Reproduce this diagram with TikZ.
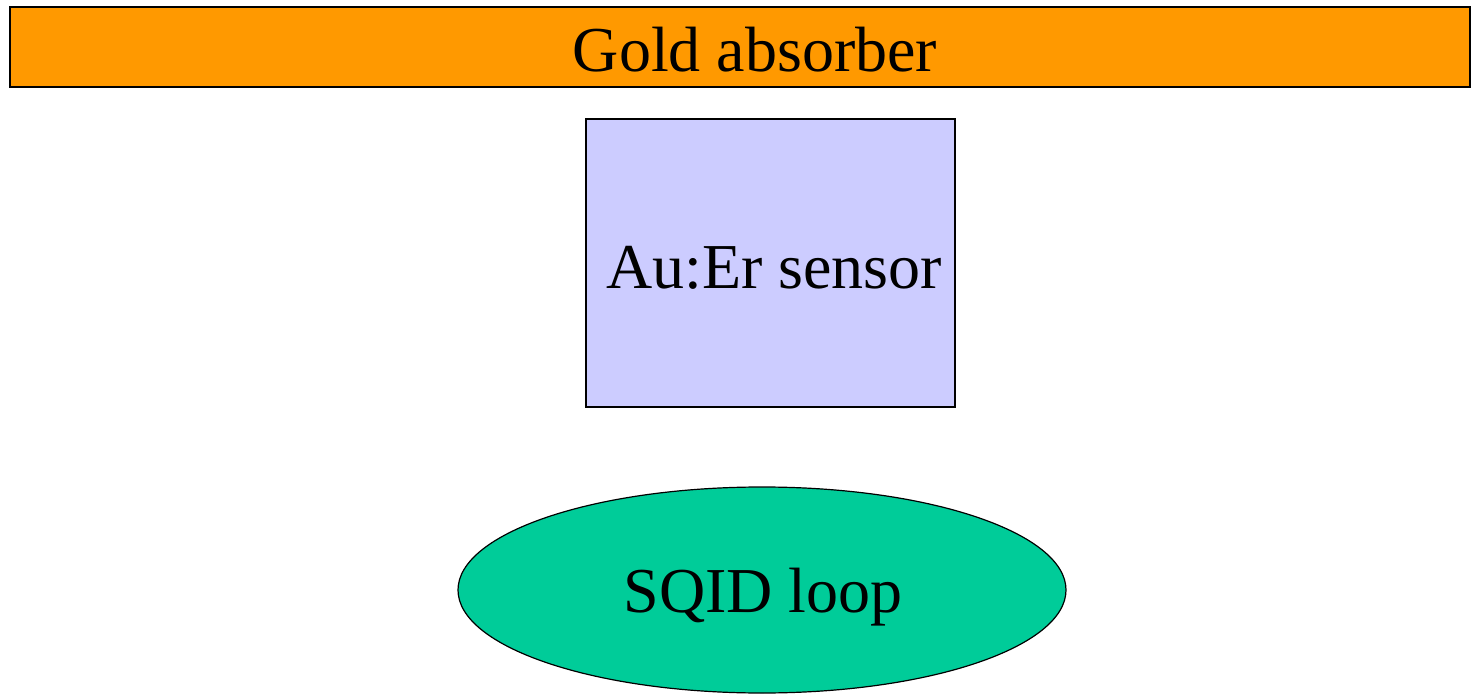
\documentclass[tikz,border=0pt]{standalone}
\usepackage{fontspec}
\setmainfont{Liberation Serif}
\usetikzlibrary{shapes.geometric}
\definecolor{goldfill}{HTML}{FF9900}
\definecolor{sensorfill}{HTML}{CCCCFF}
\definecolor{sqidfill}{HTML}{00CC99}
\tikzset{
  box/.style={draw=black, line width=0.6pt, inner sep=0pt},
  lbl/.style={font=\fontsize{32}{38}\selectfont, inner sep=0pt}
}
\begin{document}
\begin{tikzpicture}[x=0.5pt,y=-0.5pt]
\useasboundingbox (0,0) rectangle (1481,694);
\node[box, fill=goldfill, minimum width=730pt, minimum height=40pt] (gold) at (740,47) {};
\node[lbl] (goldtxt) at (755,50) {Gold absorber};
\node[box, fill=sensorfill, minimum width=184.5pt, minimum height=144pt] (sensor) at (770.5,263) {};
\node[lbl] (sensortxt) at (774,268) {Au:Er sensor};
\node[box, ellipse, fill=sqidfill, minimum width=304pt, minimum height=103pt] (sqid) at (762,590) {};
\node[lbl] (sqidtxt) at (763,597) {SQID loop};
\end{tikzpicture}
\end{document}
